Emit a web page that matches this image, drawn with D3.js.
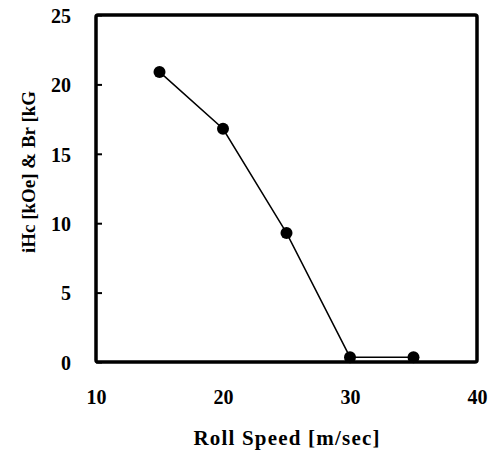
<!DOCTYPE html>
<html>
<head>
<meta charset="utf-8">
<script src="https://cdn.jsdelivr.net/npm/d3@7"></script>
<style>
  html, body { margin: 0; padding: 0; background: #fff; }
  text { font-family: "Liberation Serif", "Times New Roman", serif; font-weight: bold; fill: #000; }
</style>
</head>
<body>
<svg id="chart" width="489" height="454"></svg>
<script>
const rollSpeed = [15, 20, 25, 30, 35];
const magnetValue = [20.9, 16.8, 9.3, 0.35, 0.35];
const xTicks = [10, 20, 30, 40];
const yTicks = [0, 5, 10, 15, 20, 25];
const xTitle = "Roll Speed [m/sec]";
const yTitle = "iHc [kOe] & Br [kG";

const svg = d3.select("#chart");
const L = 96, R = 477, T = 15, B = 362;
const x = d3.scaleLinear().domain([10, 40]).range([L, R]);
const y = d3.scaleLinear().domain([0, 25]).range([B, T]);

// frame
svg.append("rect").attr("x", L).attr("y", T).attr("width", R - L).attr("height", B - T)
  .attr("rx", 2).attr("fill", "none").attr("stroke", "#000").attr("stroke-width", 3.5);

// y axis: inward ticks, labels to left
const yAxis = d3.axisLeft(y).tickValues(yTicks).tickSizeInner(-6).tickSizeOuter(0).tickPadding(25).tickFormat(d3.format("d"));
const gy = svg.append("g").attr("transform", `translate(${L},0)`).call(yAxis);
gy.select(".domain").remove();
gy.selectAll(".tick line").attr("stroke", "#000").attr("stroke-width", 2);
gy.selectAll(".tick text").style("font-size", "20px").attr("dy", "0.36em")
  .style("font-family", "'Liberation Serif', serif").style("font-weight", "bold");

// x axis
const xAxis = d3.axisBottom(x).tickValues(xTicks).tickSize(0).tickPadding(28).tickFormat(d3.format("d"));
const gx = svg.append("g").attr("transform", `translate(0,${B})`).call(xAxis);
gx.select(".domain").remove();
gx.selectAll(".tick text").style("font-size", "20px")
  .style("font-family", "'Liberation Serif', serif").style("font-weight", "bold");

// line
const line = d3.line().x((d, i) => x(rollSpeed[i])).y(d => y(d));
svg.append("path").datum(magnetValue).attr("d", line)
  .attr("fill", "none").attr("stroke", "#000").attr("stroke-width", 1.5);

svg.selectAll("circle.pt").data(magnetValue).join("circle").attr("class", "pt")
  .attr("cx", (d, i) => x(rollSpeed[i])).attr("cy", d => y(d)).attr("r", 6).attr("fill", "#000");

// titles
svg.append("text").attr("x", 287).attr("y", 445).attr("text-anchor", "middle")
  .style("font-size", "21px").style("letter-spacing", "1.2px").text(xTitle);
svg.append("text").attr("transform", "translate(35,172) rotate(-90)").attr("text-anchor", "middle")
  .style("font-size", "19px").text(yTitle);
</script>
</body>
</html>
